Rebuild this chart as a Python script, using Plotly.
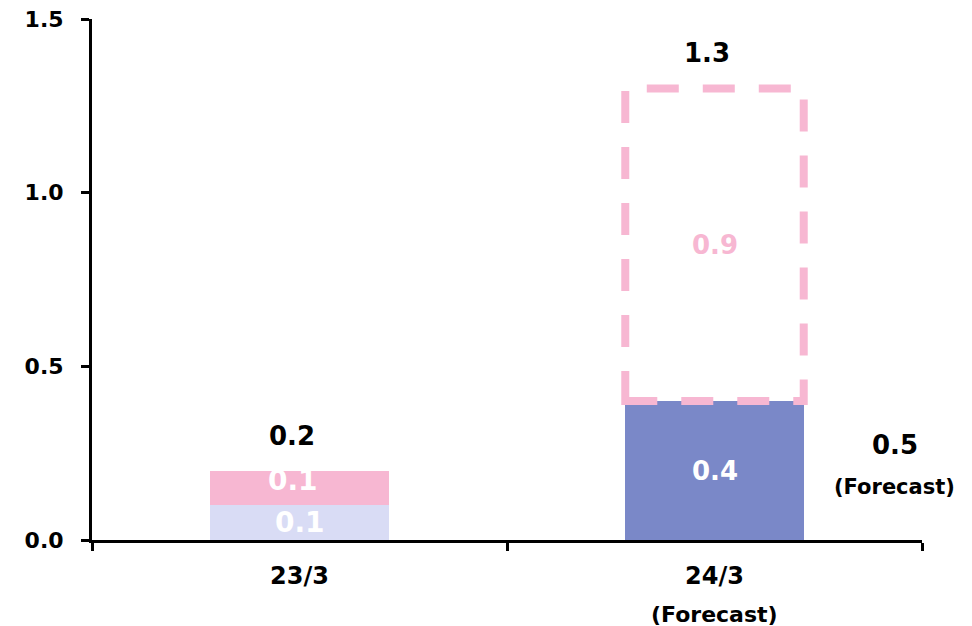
import plotly.graph_objects as go

# Fiscal periods on the x axis
categories = ["23/3", "24/3"]
category_notes = ["", "(Forecast)"]

# Lower segment of each stack and its colour
base_values = [0.1, 0.4]
base_colors = ["#D9DCF5", "#7A88C8"]

# Upper segment; the forecast one is drawn as a dashed outline only
upper_values = [0.1, 0.9]
upper_is_forecast = [False, True]

# Stack totals shown above each bar
totals = [0.2, 1.3]

# Note to the right of the forecast bar
side_value = "0.5"
side_note = "(Forecast)"

y_ticks = [0.0, 0.5, 1.0, 1.5]
y_tick_labels = ["0.0", "0.5", "1.0", "1.5"]

PINK = "#F7B7D2"
BAR_W = 0.43
FONT = "DejaVu Sans"

fig = go.Figure()

fig.add_bar(
    x=categories, y=base_values, width=BAR_W,
    marker=dict(color=base_colors, line=dict(width=0)),
    hoverinfo="skip",
)
fig.add_bar(
    x=categories, y=upper_values, width=BAR_W,
    marker=dict(
        color=["rgba(0,0,0,0)" if f else PINK for f in upper_is_forecast],
        line=dict(width=0),
    ),
    hoverinfo="skip",
)

annotations = []
for i, cat in enumerate(categories):
    b, u, t = base_values[i], upper_values[i], totals[i]
    fc = upper_is_forecast[i]
    # lower segment value
    annotations.append(dict(
        x=cat, y=b / 2, xref="x", yref="y", text=f"{b:.1f}", showarrow=False,
        xanchor="center", yanchor="middle",
        font=dict(family=FONT, size=28 if b < 0.2 else 26, color="white", weight="bold"),
    ))
    # upper segment value
    annotations.append(dict(
        x=cat, y=b + u / 2, xref="x", yref="y", text=f"{u:.1f}", showarrow=False,
        xanchor="center", yanchor="middle",
        yshift=0 if fc else 7, xshift=0 if fc else -7,
        font=dict(family=FONT, size=26 if fc else 28,
                  color=PINK if fc else "white", weight="bold"),
    ))
    # stack total
    annotations.append(dict(
        x=cat, y=t, xref="x", yref="y", text=f"{t:.1f}", showarrow=False,
        xanchor="center", yanchor="middle", yshift=35, xshift=-8,
        font=dict(family=FONT, size=26, color="black", weight="bold"),
    ))
    if category_notes[i]:
        annotations.append(dict(
            x=cat, y=0, xref="x", yref="y", text=category_notes[i], showarrow=False,
            xanchor="center", yanchor="middle", yshift=-74,
            font=dict(family=FONT, size=22, color="black", weight="bold"),
        ))
    if fc:
        fig.add_shape(
            type="rect", xref="x", yref="y",
            x0=i - BAR_W / 2, x1=i + BAR_W / 2, y0=b, y1=b + u,
            line=dict(color=PINK, width=8, dash="32px,24px"),
            fillcolor="rgba(0,0,0,0)", layer="above",
        )

annotations.append(dict(
    x=0.967, y=0.183, xref="paper", yref="paper", text=side_value, showarrow=False,
    xanchor="center", yanchor="middle",
    font=dict(family=FONT, size=26, color="black", weight="bold"),
))
annotations.append(dict(
    x=0.967, y=0.102, xref="paper", yref="paper", text=side_note, showarrow=False,
    xanchor="center", yanchor="middle",
    font=dict(family=FONT, size=21, color="black", weight="bold"),
))

fig.update_layout(
    width=972, height=626,
    margin=dict(l=92, r=50, t=19, b=86, autoexpand=False),
    paper_bgcolor="white", plot_bgcolor="white",
    barmode="stack", bargap=0, showlegend=False,
    annotations=annotations,
    xaxis=dict(
        type="category", range=[-0.5, 1.5], tickson="boundaries",
        ticks="outside", ticklen=8, tickwidth=3, tickcolor="black",
        showline=True, linewidth=3, linecolor="black", automargin=False,
        showgrid=False, zeroline=False, ticklabelstandoff=12,
        tickfont=dict(family=FONT, size=24, color="black", weight="bold"),
    ),
    yaxis=dict(
        range=[0, 1.5], tickvals=y_ticks, ticktext=y_tick_labels,
        ticks="outside", ticklen=8, tickwidth=3, tickcolor="black",
        showline=True, linewidth=3, linecolor="black", automargin=False,
        showgrid=False, zeroline=False, ticklabelstandoff=13,
        tickfont=dict(family=FONT, size=22, color="black", weight="bold"),
    ),
)

fig.write_html("out.html")
